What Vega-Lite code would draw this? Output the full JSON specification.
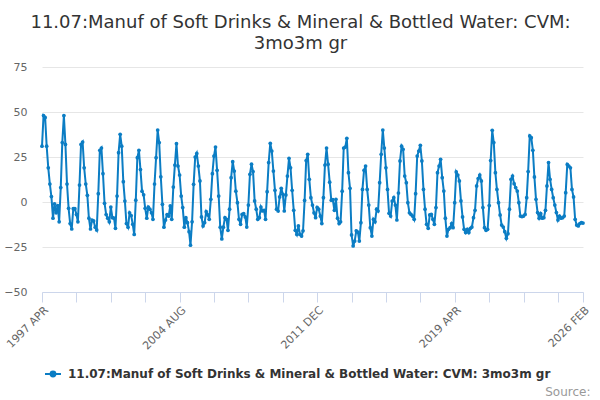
{
  "$schema": "https://vega.github.io/schema/vega-lite/v6.json",
  "width": 541,
  "height": 225,
  "autosize": {"type": "none"},
  "padding": {"left": 42, "top": 67, "right": 17, "bottom": 108},
  "background": "white",
  "config": {"font": "DejaVu Sans", "view": {"stroke": null}},
  "title": {
    "text": ["11.07:Manuf of Soft Drinks & Mineral & Bottled Water: CVM:", "3mo3m gr"],
    "anchor": "middle",
    "dx": -12,
    "dy": 3,
    "fontSize": 18,
    "fontWeight": "normal",
    "color": "#333333",
    "lineHeight": 21,
    "offset": 11
  },
  "data": {
    "values": [
      {"d": "1997-04", "v": 31}, {"d": "1997-05", "v": 48}, {"d": "1997-06", "v": 47}, {"d": "1997-07", "v": 31},
      {"d": "1997-08", "v": 19}, {"d": "1997-09", "v": 10}, {"d": "1997-10", "v": 3}, {"d": "1997-11", "v": -9},
      {"d": "1997-12", "v": -1},
      {"d": "1998-01", "v": -6}, {"d": "1998-02", "v": -2}, {"d": "1998-03", "v": -11}, {"d": "1998-04", "v": 8},
      {"d": "1998-05", "v": 33}, {"d": "1998-06", "v": 48}, {"d": "1998-07", "v": 32}, {"d": "1998-08", "v": 10},
      {"d": "1998-09", "v": -3.5}, {"d": "1998-10", "v": -12}, {"d": "1998-11", "v": -15}, {"d": "1998-12", "v": -3.7},
      {"d": "1999-01", "v": -3.7}, {"d": "1999-02", "v": -7}, {"d": "1999-03", "v": -11}, {"d": "1999-04", "v": 9.4},
      {"d": "1999-05", "v": 32}, {"d": "1999-06", "v": 33.3}, {"d": "1999-07", "v": 19}, {"d": "1999-08", "v": 10},
      {"d": "1999-09", "v": 3.7}, {"d": "1999-10", "v": -9}, {"d": "1999-11", "v": -15}, {"d": "1999-12", "v": -10},
      {"d": "2000-01", "v": -10.5}, {"d": "2000-02", "v": -14}, {"d": "2000-03", "v": -15.5}, {"d": "2000-04", "v": 4.6},
      {"d": "2000-05", "v": 28.7}, {"d": "2000-06", "v": 30}, {"d": "2000-07", "v": 15.7}, {"d": "2000-08", "v": -0.7},
      {"d": "2000-09", "v": -7}, {"d": "2000-10", "v": -9}, {"d": "2000-11", "v": -11}, {"d": "2000-12", "v": -2.8},
      {"d": "2001-01", "v": -8.7}, {"d": "2001-02", "v": -9}, {"d": "2001-03", "v": -14.6}, {"d": "2001-04", "v": 3.3},
      {"d": "2001-05", "v": 27.4}, {"d": "2001-06", "v": 37.6}, {"d": "2001-07", "v": 31}, {"d": "2001-08", "v": 11.3},
      {"d": "2001-09", "v": 0.5}, {"d": "2001-10", "v": -12}, {"d": "2001-11", "v": -14}, {"d": "2001-12", "v": -6},
      {"d": "2002-01", "v": -7.5}, {"d": "2002-02", "v": -12.4}, {"d": "2002-03", "v": -18}, {"d": "2002-04", "v": 1},
      {"d": "2002-05", "v": 24.6}, {"d": "2002-06", "v": 28.7}, {"d": "2002-07", "v": 18}, {"d": "2002-08", "v": 6},
      {"d": "2002-09", "v": 4}, {"d": "2002-10", "v": -3.5}, {"d": "2002-11", "v": -9}, {"d": "2002-12", "v": -2.8},
      {"d": "2003-01", "v": -4}, {"d": "2003-02", "v": -6}, {"d": "2003-03", "v": -9.6}, {"d": "2003-04", "v": 10},
      {"d": "2003-05", "v": 24.6}, {"d": "2003-06", "v": 40}, {"d": "2003-07", "v": 33}, {"d": "2003-08", "v": 14},
      {"d": "2003-09", "v": -1.3}, {"d": "2003-10", "v": -14}, {"d": "2003-11", "v": -10}, {"d": "2003-12", "v": -7},
      {"d": "2004-01", "v": -7.8}, {"d": "2004-02", "v": -2.2}, {"d": "2004-03", "v": -9.6}, {"d": "2004-04", "v": 8.3},
      {"d": "2004-05", "v": 20.5}, {"d": "2004-06", "v": 32.4}, {"d": "2004-07", "v": 20}, {"d": "2004-08", "v": 15},
      {"d": "2004-09", "v": 3.3}, {"d": "2004-10", "v": -3.1}, {"d": "2004-11", "v": -14}, {"d": "2004-12", "v": -8.7},
      {"d": "2005-01", "v": -11.5}, {"d": "2005-02", "v": -16.5}, {"d": "2005-03", "v": -24}, {"d": "2005-04", "v": -11},
      {"d": "2005-05", "v": 9.8}, {"d": "2005-06", "v": 25}, {"d": "2005-07", "v": 27}, {"d": "2005-08", "v": 20},
      {"d": "2005-09", "v": 11.7}, {"d": "2005-10", "v": -8.3}, {"d": "2005-11", "v": -13.3}, {"d": "2005-12", "v": -11.5},
      {"d": "2006-01", "v": -5.4}, {"d": "2006-02", "v": -7.2}, {"d": "2006-03", "v": -9.6}, {"d": "2006-04", "v": 1.5},
      {"d": "2006-05", "v": 15.7}, {"d": "2006-06", "v": 25.5}, {"d": "2006-07", "v": 30.5}, {"d": "2006-08", "v": 17.6},
      {"d": "2006-09", "v": 3.3}, {"d": "2006-10", "v": -14}, {"d": "2006-11", "v": -20.5}, {"d": "2006-12", "v": -14},
      {"d": "2007-01", "v": -8.7}, {"d": "2007-02", "v": -9.6}, {"d": "2007-03", "v": -15.7}, {"d": "2007-04", "v": -4},
      {"d": "2007-05", "v": 13.5}, {"d": "2007-06", "v": 22.4}, {"d": "2007-07", "v": 17.2}, {"d": "2007-08", "v": 6},
      {"d": "2007-09", "v": -0.4}, {"d": "2007-10", "v": -9.6}, {"d": "2007-11", "v": -12.4}, {"d": "2007-12", "v": -6.9},
      {"d": "2008-01", "v": -6.5}, {"d": "2008-02", "v": -8.3}, {"d": "2008-03", "v": -13.9}, {"d": "2008-04", "v": -1.7},
      {"d": "2008-05", "v": 15.4}, {"d": "2008-06", "v": 21}, {"d": "2008-07", "v": 16.9}, {"d": "2008-08", "v": 0.6},
      {"d": "2008-09", "v": -4}, {"d": "2008-10", "v": -9.6}, {"d": "2008-11", "v": -8.7}, {"d": "2008-12", "v": -2.8},
      {"d": "2009-01", "v": -5}, {"d": "2009-02", "v": -4.6}, {"d": "2009-03", "v": -9.6}, {"d": "2009-04", "v": 5.7},
      {"d": "2009-05", "v": 21.9}, {"d": "2009-06", "v": 32.6}, {"d": "2009-07", "v": 28.3}, {"d": "2009-08", "v": 17.2},
      {"d": "2009-09", "v": 6.5}, {"d": "2009-10", "v": -4}, {"d": "2009-11", "v": -5}, {"d": "2009-12", "v": 2.8},
      {"d": "2010-01", "v": 7.6}, {"d": "2010-02", "v": 4.3}, {"d": "2010-03", "v": -5}, {"d": "2010-04", "v": 3.9},
      {"d": "2010-05", "v": 14.4}, {"d": "2010-06", "v": 24.3}, {"d": "2010-07", "v": 19}, {"d": "2010-08", "v": 6.5},
      {"d": "2010-09", "v": -4.6}, {"d": "2010-10", "v": -15.7}, {"d": "2010-11", "v": -18}, {"d": "2010-12", "v": -13.3},
      {"d": "2011-01", "v": -18}, {"d": "2011-02", "v": -18.9}, {"d": "2011-03", "v": -16}, {"d": "2011-04", "v": 0.9},
      {"d": "2011-05", "v": 23}, {"d": "2011-06", "v": 26.5}, {"d": "2011-07", "v": 12.6}, {"d": "2011-08", "v": 2.4},
      {"d": "2011-09", "v": -1.7}, {"d": "2011-10", "v": -6}, {"d": "2011-11", "v": -8.7}, {"d": "2011-12", "v": -3},
      {"d": "2012-01", "v": -4}, {"d": "2012-02", "v": -7.8}, {"d": "2012-03", "v": -12}, {"d": "2012-04", "v": 2.4},
      {"d": "2012-05", "v": 20.5}, {"d": "2012-06", "v": 30}, {"d": "2012-07", "v": 21}, {"d": "2012-08", "v": 11},
      {"d": "2012-09", "v": 1}, {"d": "2012-10", "v": 1.3}, {"d": "2012-11", "v": -4.6}, {"d": "2012-12", "v": 1.5},
      {"d": "2013-01", "v": -9}, {"d": "2013-02", "v": -12}, {"d": "2013-03", "v": -11}, {"d": "2013-04", "v": 6},
      {"d": "2013-05", "v": 30}, {"d": "2013-06", "v": 30.5}, {"d": "2013-07", "v": 35.4}, {"d": "2013-08", "v": 16.3},
      {"d": "2013-09", "v": 7.6}, {"d": "2013-10", "v": -18.3}, {"d": "2013-11", "v": -24.4}, {"d": "2013-12", "v": -21.7},
      {"d": "2014-01", "v": -16}, {"d": "2014-02", "v": -16.7}, {"d": "2014-03", "v": -21.7}, {"d": "2014-04", "v": -11.5},
      {"d": "2014-05", "v": 7}, {"d": "2014-06", "v": 17.6}, {"d": "2014-07", "v": 20}, {"d": "2014-08", "v": 7},
      {"d": "2014-09", "v": -1.7}, {"d": "2014-10", "v": -14.3}, {"d": "2014-11", "v": -18.9}, {"d": "2014-12", "v": -9.6},
      {"d": "2015-01", "v": -11}, {"d": "2015-02", "v": -4}, {"d": "2015-03", "v": -5}, {"d": "2015-04", "v": 10.7},
      {"d": "2015-05", "v": 26.5}, {"d": "2015-06", "v": 40}, {"d": "2015-07", "v": 30}, {"d": "2015-08", "v": 19},
      {"d": "2015-09", "v": 7}, {"d": "2015-10", "v": -6.3}, {"d": "2015-11", "v": -7.8}, {"d": "2015-12", "v": 0.5},
      {"d": "2016-01", "v": 2.4}, {"d": "2016-02", "v": -1.7}, {"d": "2016-03", "v": -10}, {"d": "2016-04", "v": 5},
      {"d": "2016-05", "v": 22.8}, {"d": "2016-06", "v": 31}, {"d": "2016-07", "v": 29.3}, {"d": "2016-08", "v": 14.4},
      {"d": "2016-09", "v": 10.7}, {"d": "2016-10", "v": -0.4}, {"d": "2016-11", "v": -6}, {"d": "2016-12", "v": -6.9},
      {"d": "2017-01", "v": -7.8}, {"d": "2017-02", "v": -9.6}, {"d": "2017-03", "v": 4.6}, {"d": "2017-04", "v": 25.5},
      {"d": "2017-05", "v": 28.3}, {"d": "2017-06", "v": 31.5}, {"d": "2017-07", "v": 22.8}, {"d": "2017-08", "v": 7},
      {"d": "2017-09", "v": -4}, {"d": "2017-10", "v": -12.4}, {"d": "2017-11", "v": -14.6}, {"d": "2017-12", "v": -7.2},
      {"d": "2018-01", "v": -6.9}, {"d": "2018-02", "v": -9.6}, {"d": "2018-03", "v": -12.4}, {"d": "2018-04", "v": -3.1},
      {"d": "2018-05", "v": 16.3}, {"d": "2018-06", "v": 20}, {"d": "2018-07", "v": 23.7}, {"d": "2018-08", "v": 13.5},
      {"d": "2018-09", "v": 6.1}, {"d": "2018-10", "v": -9}, {"d": "2018-11", "v": -18.9}, {"d": "2018-12", "v": -15.2},
      {"d": "2019-01", "v": -14.3}, {"d": "2019-02", "v": -12}, {"d": "2019-03", "v": -14.3}, {"d": "2019-04", "v": -0.4},
      {"d": "2019-05", "v": 16.7}, {"d": "2019-06", "v": 15}, {"d": "2019-07", "v": 11.7}, {"d": "2019-08", "v": 0.6},
      {"d": "2019-09", "v": -8.3}, {"d": "2019-10", "v": -15.2}, {"d": "2019-11", "v": -17}, {"d": "2019-12", "v": -15.2},
      {"d": "2020-01", "v": -17}, {"d": "2020-02", "v": -14.6}, {"d": "2020-03", "v": -13.9}, {"d": "2020-04", "v": -8.7},
      {"d": "2020-05", "v": -4.6}, {"d": "2020-06", "v": 8.9}, {"d": "2020-07", "v": 13}, {"d": "2020-08", "v": 15},
      {"d": "2020-09", "v": 11.7}, {"d": "2020-10", "v": -3.1}, {"d": "2020-11", "v": -14.3}, {"d": "2020-12", "v": -15.7},
      {"d": "2021-01", "v": -15.2}, {"d": "2021-02", "v": -2}, {"d": "2021-03", "v": 23}, {"d": "2021-04", "v": 39.8},
      {"d": "2021-05", "v": 33}, {"d": "2021-06", "v": 16.3}, {"d": "2021-07", "v": 7}, {"d": "2021-08", "v": -0.4},
      {"d": "2021-09", "v": -7.2}, {"d": "2021-10", "v": -12.8}, {"d": "2021-11", "v": -13.9}, {"d": "2021-12", "v": -16.5},
      {"d": "2022-01", "v": -20.2}, {"d": "2022-02", "v": -17.6}, {"d": "2022-03", "v": -4}, {"d": "2022-04", "v": 12.6},
      {"d": "2022-05", "v": 14.4}, {"d": "2022-06", "v": 10.2}, {"d": "2022-07", "v": 8}, {"d": "2022-08", "v": 6.1},
      {"d": "2022-09", "v": -0.4}, {"d": "2022-10", "v": -7.8}, {"d": "2022-11", "v": -8.1}, {"d": "2022-12", "v": -7.8},
      {"d": "2023-01", "v": -6.9}, {"d": "2023-02", "v": 2.4}, {"d": "2023-03", "v": 16.9}, {"d": "2023-04", "v": 36.7},
      {"d": "2023-05", "v": 35.7}, {"d": "2023-06", "v": 28.7}, {"d": "2023-07", "v": 13.9}, {"d": "2023-08", "v": 1.5},
      {"d": "2023-09", "v": -5.9}, {"d": "2023-10", "v": -9}, {"d": "2023-11", "v": -6.5}, {"d": "2023-12", "v": -9},
      {"d": "2024-01", "v": -8.7}, {"d": "2024-02", "v": -4.6}, {"d": "2024-03", "v": 8.9}, {"d": "2024-04", "v": 21.9},
      {"d": "2024-05", "v": 12.6}, {"d": "2024-06", "v": 7}, {"d": "2024-07", "v": 2.4}, {"d": "2024-08", "v": -1.7},
      {"d": "2024-09", "v": -5.9}, {"d": "2024-10", "v": -10}, {"d": "2024-11", "v": -7.8}, {"d": "2024-12", "v": -9},
      {"d": "2025-01", "v": -8.7}, {"d": "2025-02", "v": -7.8}, {"d": "2025-03", "v": 5.2}, {"d": "2025-04", "v": 20.9},
      {"d": "2025-05", "v": 20}, {"d": "2025-06", "v": 19}, {"d": "2025-07", "v": 7}, {"d": "2025-08", "v": 2.8},
      {"d": "2025-09", "v": -9.6}, {"d": "2025-10", "v": -12.8}, {"d": "2025-11", "v": -13.3}, {"d": "2025-12", "v": -12},
      {"d": "2026-01", "v": -11.5}, {"d": "2026-02", "v": -11.7}
    ]
  },
  "mark": {"type": "line", "strokeWidth": 2, "point": {"filled": true, "size": 14}},
  "encoding": {
    "x": {
      "field": "d",
      "type": "temporal",
      "scale": {
        "type": "utc",
        "nice": false,
        "domain": [
          {"year": 1997, "month": 4, "date": 1, "utc": true},
          {"year": 2026, "month": 2, "date": 1, "utc": true}
        ]
      },
      "axis": {
        "values": [
          {"year": 1997, "month": 4, "date": 1, "utc": true},
          {"year": 1999, "month": 2, "date": 1, "utc": true},
          {"year": 2000, "month": 12, "date": 1, "utc": true},
          {"year": 2002, "month": 10, "date": 1, "utc": true},
          {"year": 2004, "month": 8, "date": 1, "utc": true},
          {"year": 2006, "month": 6, "date": 1, "utc": true},
          {"year": 2008, "month": 4, "date": 1, "utc": true},
          {"year": 2010, "month": 2, "date": 1, "utc": true},
          {"year": 2011, "month": 12, "date": 1, "utc": true},
          {"year": 2013, "month": 10, "date": 1, "utc": true},
          {"year": 2015, "month": 8, "date": 1, "utc": true},
          {"year": 2017, "month": 6, "date": 1, "utc": true},
          {"year": 2019, "month": 4, "date": 1, "utc": true},
          {"year": 2021, "month": 2, "date": 1, "utc": true},
          {"year": 2022, "month": 12, "date": 1, "utc": true},
          {"year": 2024, "month": 10, "date": 1, "utc": true},
          {"year": 2026, "month": 2, "date": 1, "utc": true}
        ],
        "labelExpr": "indexof(['1997 APR', '2004 AUG', '2011 DEC', '2019 APR', '2026 FEB'], upper(utcFormat(datum.value, '%Y %b'))) >= 0 ? upper(utcFormat(datum.value, '%Y %b')) : ''",
        "labelAngle": -45,
        "labelFontSize": 11,
        "labelColor": "#666666",
        "labelOverlap": false,
        "labelPadding": 2,
        "grid": false,
        "domainColor": "#ccd6eb",
        "tickColor": "#ccd6eb",
        "tickSize": 10,
        "title": "Source:",
        "titleX": 548,
        "titleY": 103,
        "titleAlign": "right",
        "titleBaseline": "alphabetic",
        "titleFontSize": 12,
        "titleFontWeight": "normal",
        "titleColor": "#999999"
      }
    },
    "y": {
      "field": "v",
      "type": "quantitative",
      "scale": {"domain": [-50, 75], "nice": false},
      "axis": {
        "values": [-50, -25, 0, 25, 50, 75],
        "title": null,
        "domain": false,
        "ticks": false,
        "tickSize": 0,
        "labelPadding": 15,
        "labelFontSize": 11,
        "labelColor": "#666666",
        "gridColor": "#e6e6e6"
      }
    },
    "color": {
      "datum": "11.07:Manuf of Soft Drinks & Mineral & Bottled Water: CVM: 3mo3m gr",
      "scale": {"range": ["#0b7dc4"]},
      "legend": {
        "orient": "none",
        "legendX": 2,
        "legendY": 298,
        "title": null,
        "labelFontSize": 12,
        "labelFontWeight": "bold",
        "labelColor": "#333333",
        "labelLimit": 0,
        "labelOffset": 6,
        "symbolType": "M-1,0L1,0M-0.3,0A0.3,0.3,0,1,1,0.3,0A0.3,0.3,0,1,1,-0.3,0",
        "symbolSize": 256,
        "symbolStrokeWidth": 2,
        "symbolFillColor": "#0b7dc4"
      }
    }
  }
}
